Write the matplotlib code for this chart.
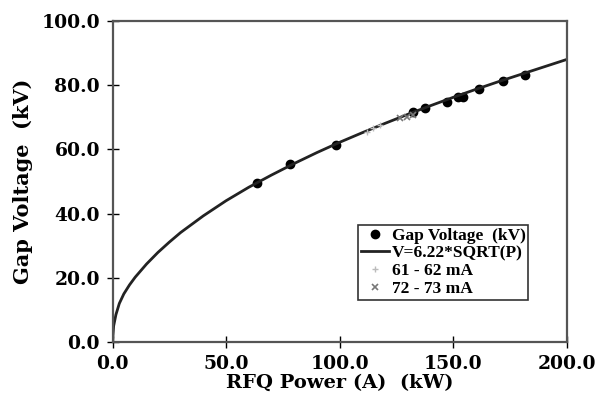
import matplotlib.pyplot as plt

plt.rcParams['font.family'] = ['Liberation Serif', 'DejaVu Serif']
plt.rcParams['font.weight'] = 'bold'

# fitted curve V=6.22*SQRT(P)
curve_p = [0, 0.5, 1.5, 3, 5, 7.5, 10, 15, 20, 25, 30, 40, 50, 60, 70, 80, 90,
           100, 110, 120, 130, 140, 150, 160, 170, 180, 190, 200]
curve_v = [0, 5, 8.5, 12.0, 15.0, 17.8, 20.2, 24.3, 27.9, 31.1, 34.1, 39.3, 44.0, 48.2, 52.0, 55.6, 59.0,
           62.2, 65.2, 68.1, 70.9, 73.6, 76.2, 78.7, 81.1, 83.4, 85.7, 88.0]

# measured gap voltage
gap_p = [63.5, 78.2, 98.3, 132.5, 137.7, 147.2, 152.2, 154.4, 161.4, 172.2, 181.6]
gap_v = [49.4, 55.5, 61.3, 71.6, 73.0, 74.9, 76.4, 76.4, 78.7, 81.4, 83.2]

# 61 - 62 mA
p61 = [112.0, 114.9, 117.8]
v61 = [65.5, 66.6, 67.6]

# 72 - 73 mA
p72 = [126.6, 129.6, 132.5]
v72 = [69.7, 70.2, 70.7]

fig = plt.figure(figsize=(6, 4.01), dpi=100)
ax = fig.add_axes([0.1875, 0.1471, 0.7567, 0.8005])

ax.plot(gap_p, gap_v, 'o', color='black', markersize=6, label='Gap Voltage  (kV)')
ax.plot(curve_p, curve_v, '-', color='#222222', linewidth=2, label='V=6.22*SQRT(P)')
ax.plot(p61, v61, '+', color='#bbbbbb', markersize=5, mew=1, label='61 - 62 mA')
ax.plot(p72, v72, 'x', color='#777777', markersize=5, mew=1.2, label='72 - 73 mA')

ax.set_xlim(0, 200)
ax.set_ylim(0, 100)
ax.set_xticks([0, 50, 100, 150, 200])
ax.set_yticks([0, 20, 40, 60, 80, 100])
ax.set_xticklabels(['0.0', '50.0', '100.0', '150.0', '200.0'])
ax.set_yticklabels(['0.0', '20.0', '40.0', '60.0', '80.0', '100.0'])
ax.tick_params(direction='inout', length=8, width=1, pad=5)
for lab in ax.get_xticklabels() + ax.get_yticklabels():
    lab.set_fontfamily('DejaVu Serif')
    lab.set_fontweight('bold')
    lab.set_fontsize(13.5)

for s in ax.spines.values():
    s.set_color('#555555')
    s.set_linewidth(1.6)

ax.set_xlabel('RFQ Power (A)  (kW)', fontsize=14, fontweight='bold', family='DejaVu Serif',
              labelpad=1)
ax.set_ylabel('Gap Voltage  (kV)', fontsize=15, fontweight='bold', family='DejaVu Serif',
              labelpad=6)

leg = ax.legend(loc='upper left', bbox_to_anchor=(0.541, 0.365), fontsize=12.5,
                frameon=True, fancybox=False, handlelength=1.6, handletextpad=0.2,
                borderpad=0.15, labelspacing=0.1, borderaxespad=0)
leg.get_frame().set_edgecolor('black')
leg.get_frame().set_linewidth(1.2)
for t in leg.get_texts():
    t.set_fontweight('bold')

plt.savefig('out.png', dpi=100)
